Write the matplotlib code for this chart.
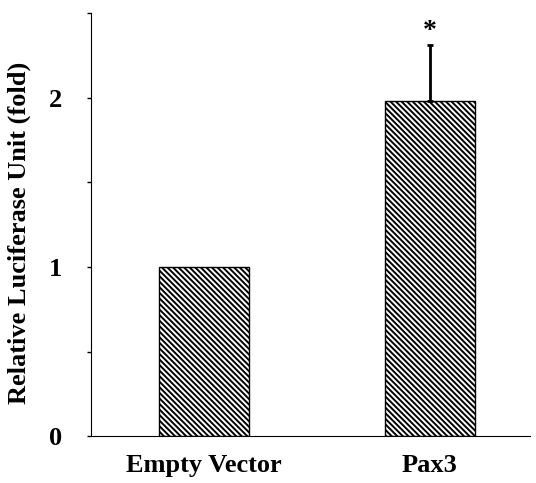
import matplotlib.pyplot as plt
from matplotlib.ticker import MultipleLocator

plt.rcParams['font.family'] = ['Liberation Serif', 'DejaVu Serif']
plt.rcParams['font.weight'] = 'bold'
plt.rcParams['hatch.linewidth'] = 1.4
plt.rcParams['hatch.color'] = '#3a3a3a'

groups = ['Empty Vector', 'Pax3']
fold = [1.0, 1.98]
err_up = [0.0, 0.33]

fig = plt.figure(figsize=(5.36, 4.83), dpi=100)
ax = fig.add_axes([0.170, 0.097, 0.819, 0.876])

x = list(range(len(groups)))
ax.bar(x, fold, width=0.40, color='white', edgecolor='black', linewidth=1.0,
       hatch='\\\\\\\\\\\\', zorder=2)
ax.errorbar(x[1], fold[1], yerr=[[0], [err_up[1]]], fmt='none', ecolor='black',
            elinewidth=2, capsize=2, capthick=2, zorder=3)
ax.text(x[1], fold[1] + err_up[1] + 0.01, '*', ha='center', va='bottom',
        fontsize=20, fontweight='bold')

ax.set_xlim(-0.5, 1.445)
ax.set_ylim(0, 2.5)
ax.set_xticks(x)
ax.set_xticklabels(groups, fontsize=19, fontweight='bold')
ax.yaxis.set_major_locator(MultipleLocator(1))
ax.yaxis.set_minor_locator(MultipleLocator(0.5))
ax.tick_params(axis='y', which='both', direction='out', length=3, width=1, labelsize=19, pad=18)
ax.tick_params(axis='x', length=0, pad=13)
ax.set_ylabel('Relative Luciferase Unit (fold)', fontsize=19, fontweight='bold')
ax.yaxis.set_label_coords(-0.137, 0.48)

for s in ['top', 'right']:
    ax.spines[s].set_visible(False)

plt.savefig('out.png', dpi=100)
